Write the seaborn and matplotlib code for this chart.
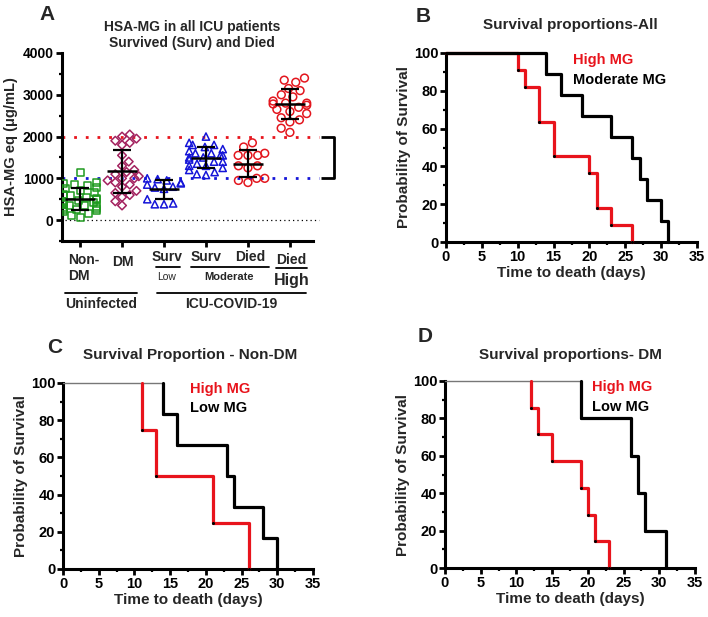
import numpy as np
import pandas as pd
import matplotlib
matplotlib.use('Agg')
import matplotlib.pyplot as plt
import seaborn as sns
from matplotlib.ticker import MultipleLocator
from matplotlib.collections import PathCollection
import warnings
warnings.filterwarnings('ignore')

# ===== Data =====
# Panel A: HSA-MG (ug/mL) per group
groups = ['Non-DM', 'DM', 'Surv Low', 'Surv Moderate', 'Died Moderate', 'Died High']
non_dm = [1150, 900, 880, 850, 820, 780, 750, 700, 650, 620, 600, 580, 550, 520, 500,
          480, 450, 420, 400, 380, 360, 350, 330, 300, 280, 260, 250, 220, 200, 150, 100, 70]
dm = [2050, 2000, 1950, 1900, 1850, 1800, 1550, 1400, 1300, 1200, 1150, 1100, 1050, 1000,
      950, 900, 850, 800, 700, 650, 600, 550, 450, 350, 1000]
surv_low = [1000, 980, 950, 900, 880, 850, 800, 780, 750, 500, 400, 380, 380]
surv_mod = [2000, 1850, 1800, 1800, 1750, 1700, 1650, 1600, 1600, 1550, 1550, 1500, 1500,
            1450, 1400, 1400, 1350, 1300, 1300, 1250, 1200, 1150, 1100, 1080]
died_mod = [1850, 1750, 1600, 1550, 1550, 1550, 1300, 1300, 1250, 1000, 1000, 950, 900]
died_high = [3400, 3350, 3300, 3150, 3100, 3000, 2950, 2850, 2800, 2800, 2780, 2750, 2700,
             2650, 2600, 2550, 2450, 2400, 2350, 2200, 2100]
group_vals = [non_dm, dm, surv_low, surv_mod, died_mod, died_high]
group_markers = ['s', 'D', '^', '^', 'o', 'o']
group_sizes = [5.0, 4.4, 5.2, 5.2, 5.6, 5.6]
group_colors = ['#1f9a1f', '#a3225f', '#1515d8', '#1515d8', '#e3161e', '#e3161e']

# Survival curves: event times (days) and survival (%) after each event
b_high_t = [10, 11, 13, 15, 20, 21, 23, 26]
b_high_s = [90.9, 81.8, 63.6, 45.5, 36.4, 18.2, 9.1, 0]
b_mod_t = [14, 16, 19, 23, 26, 27, 28, 30, 31]
b_mod_s = [88.9, 77.8, 66.7, 55.6, 44.4, 33.3, 22.2, 11.1, 0]
c_high_t = [11, 13, 21, 26]
c_high_s = [75, 50, 25, 0]
c_low_t = [14, 16, 23, 24, 28, 30]
c_low_s = [83.3, 66.7, 50, 33.3, 16.7, 0]
d_high_t = [12, 13, 15, 19, 20, 21, 23]
d_high_s = [85.7, 71.4, 57.1, 42.9, 28.6, 14.3, 0]
d_low_t = [19, 26, 27, 28, 31]
d_low_s = [80, 60, 40, 20, 0]

RED = '#e8141c'

# ===== Style =====
sns.set_style('ticks')
plt.rcParams['font.family'] = ['Liberation Sans', 'DejaVu Sans']
plt.rcParams['font.weight'] = 'bold'
plt.rcParams['axes.labelweight'] = 'bold'
plt.rcParams['axes.linewidth'] = 2.2
plt.rcParams['xtick.major.width'] = 2
plt.rcParams['ytick.major.width'] = 2
plt.rcParams['xtick.minor.width'] = 1.6
plt.rcParams['ytick.minor.width'] = 1.6
plt.rcParams['xtick.major.size'] = 4
plt.rcParams['ytick.major.size'] = 4
plt.rcParams['xtick.minor.size'] = 2.5
plt.rcParams['ytick.minor.size'] = 2.5
plt.rcParams['xtick.color'] = 'black'
plt.rcParams['ytick.color'] = 'black'
plt.rcParams['axes.edgecolor'] = 'black'

W, H = 708, 617
fig = plt.figure(figsize=(W / 100, H / 100), dpi=100)


def px_axes(left, top, right, bottom):
    return fig.add_axes([left / W, 1 - bottom / H, (right - left) / W, (bottom - top) / H])


def ftext(x, y, s, **kw):
    fig.text(x / W, 1 - y / H, s, **kw)


# ===== Panel A =====
axA = px_axes(62, 53, 313, 241)
for g, vals, mk, sz, col in zip(groups, group_vals, group_markers, group_sizes, group_colors):
    n_before = len(axA.collections)
    d = pd.DataFrame({'grp': g, 'val': vals})
    sns.swarmplot(data=d, x='grp', y='val', order=groups, marker=mk, color=col,
                  size=sz, linewidth=1, ax=axA, zorder=3)
    # make the new markers hollow
    for coll in axA.collections[n_before:]:
        if isinstance(coll, PathCollection):
            coll.set_facecolor('none')
            coll.set_edgecolor(col)
            coll.set_linewidth(1.1)

for i, vals in enumerate(group_vals):
    m = np.mean(vals)
    s = np.std(vals, ddof=1)
    axA.hlines(m, i - 0.36, i + 0.36, color='black', lw=1.8, zorder=5)
    axA.errorbar(i, m, yerr=s, fmt='none', ecolor='black', elinewidth=1.6,
                 capsize=6.5, capthick=1.6, zorder=5)

axA.set_xlim(-0.43, 5.55)
axA.set_ylim(-500, 4000)
axA.plot([-0.43, 5.69], [2000, 2000], color=RED, lw=2, ls=(0, (1, 3.2)), clip_on=False, zorder=2)
axA.plot([-0.43, 5.69], [1000, 1000], color='#1515d8', lw=2, ls=(0, (1, 3.2)), clip_on=False, zorder=2)
axA.plot([-0.36, 5.69], [0, 0], color='black', lw=0.9, ls=(0, (1, 2.5)), clip_on=False, zorder=2)
axA.plot([5.74, 6.04, 6.04, 5.74], [2000, 2000, 1000, 1000], color='black', lw=2,
         clip_on=False, solid_capstyle='butt')

axA.set_xticks(range(len(groups)))
axA.set_xticklabels([])
axA.set_xlabel('')
axA.yaxis.set_major_locator(MultipleLocator(1000))
axA.yaxis.set_minor_locator(MultipleLocator(500))
axA.tick_params(axis='both', labelsize=10, pad=2)
axA.set_ylabel('HSA-MG eq (\u03bcg/mL)', fontsize=10.5, labelpad=3)
sns.despine(ax=axA)

# group labels under panel A
tr = axA.get_xaxis_transform()


def yf(py):
    return (241 - py) / 188


def px2x(px):
    return (px - 80) / 42


lab = dict(transform=tr, fontsize=10, fontweight='bold', clip_on=False)
axA.text(px2x(68), yf(253), 'Non-\nDM', ha='left', va='top', linespacing=1.15, **lab)
axA.text(1.03, yf(262), 'DM', ha='center', va='center', **lab)
axA.text(px2x(167), yf(257), 'Surv', ha='center', va='center', **lab)
axA.text(3.0, yf(257), 'Surv', ha='center', va='center', **lab)
axA.text(4.05, yf(257), 'Died', ha='center', va='center', **lab)
axA.text(5.03, yf(260), 'Died', ha='center', va='center', **lab)
axA.text(px2x(167), yf(277), 'Low', ha='center', va='center', transform=tr, fontsize=7.5,
         fontweight='normal', clip_on=False)
axA.text(3.55, yf(277), 'Moderate', ha='center', va='center', transform=tr, fontsize=8,
         fontweight='bold', clip_on=False)
axA.text(5.05, yf(280), 'High', ha='center', va='center', transform=tr, fontsize=11.5,
         fontweight='bold', clip_on=False)
axA.text(0.5, yf(304), 'Uninfected', ha='center', va='center', **lab)
axA.text(3.6, yf(304), 'ICU-COVID-19', ha='center', va='center', **lab)
for x0, x1, py in [(156, 180, 267), (191, 269, 267), (276, 307, 268), (65, 137, 293), (157, 306, 293)]:
    axA.plot([px2x(x0), px2x(x1)], [yf(py), yf(py)], transform=tr, color='black', lw=1.3,
             clip_on=False)

ftext(47, 15, 'A', fontsize=15, fontweight='bold', ha='center', va='center')
ftext(192, 27, 'HSA-MG in all ICU patients', fontsize=10, fontweight='bold', ha='center', va='center')
ftext(192, 43, 'Survived (Surv) and Died', fontsize=10, fontweight='bold', ha='center', va='center')


# ===== Survival panels =====
def steps(ax, t, s, color, start0):
    t0 = 0 if start0 else t[0]
    xs = [t0] + list(t)
    ys = [100] + list(s)
    sns.lineplot(x=xs, y=ys, drawstyle='steps-post', estimator=None, sort=False,
                 color=color, lw=2.3, ax=ax, clip_on=False, zorder=4)
    ax.scatter(t, s, s=5, color='black', zorder=5, clip_on=False, linewidths=0)


def style_surv(ax, title, letter, tx, ty, lx, ly):
    ax.set_xlim(0, 35)
    ax.set_ylim(0, 100)
    ax.xaxis.set_major_locator(MultipleLocator(5))
    ax.xaxis.set_minor_locator(MultipleLocator(2.5))
    ax.yaxis.set_major_locator(MultipleLocator(20))
    ax.yaxis.set_minor_locator(MultipleLocator(10))
    ax.tick_params(axis='both', labelsize=10.5, pad=1.5)
    ax.set_xlabel('Time to death (days)', fontsize=11, labelpad=2)
    ax.set_ylabel('Probability of Survival', fontsize=11, labelpad=2)
    sns.despine(ax=ax)
    ftext(tx, ty, title, fontsize=11, fontweight='bold', ha='center', va='center')
    ftext(lx, ly, letter, fontsize=15, fontweight='bold', ha='center', va='center')


def legend_text(ax, x, y_hi, y_lo, lo_label):
    ax.text(x, y_hi, 'High MG', color=RED, fontsize=10.5, fontweight='bold', va='center')
    ax.text(x, y_lo, lo_label, color='black', fontsize=10.5, fontweight='bold', va='center')


axB = px_axes(446, 53, 697, 242)
steps(axB, b_high_t, b_high_s, RED, True)
steps(axB, b_mod_t, b_mod_s, 'black', True)
legend_text(axB, 17.7, 96.3, 85.7, 'Moderate MG')
style_surv(axB, 'Survival proportions-All', 'B', 570, 25, 423, 17)

axC = px_axes(63, 383, 313, 569)
axC.plot([0, max(c_high_t[0], c_low_t[0])], [100, 100], color='#777777', lw=1, clip_on=False, zorder=3)
steps(axC, c_high_t, c_high_s, RED, False)
steps(axC, c_low_t, c_low_s, 'black', False)
legend_text(axC, 17.8, 97, 86.5, 'Low MG')
style_surv(axC, 'Survival Proportion - Non-DM', 'C', 190, 355, 55, 348)

axD = px_axes(445, 381, 695, 568)
axD.plot([0, max(d_high_t[0], d_low_t[0])], [100, 100], color='#777777', lw=1, clip_on=False, zorder=3)
steps(axD, d_high_t, d_high_s, RED, False)
steps(axD, d_low_t, d_low_s, 'black', False)
legend_text(axD, 20.6, 97, 86, 'Low MG')
style_surv(axD, 'Survival proportions- DM', 'D', 570, 355, 425, 337)

plt.savefig('out.png', dpi=100)
plt.close()
